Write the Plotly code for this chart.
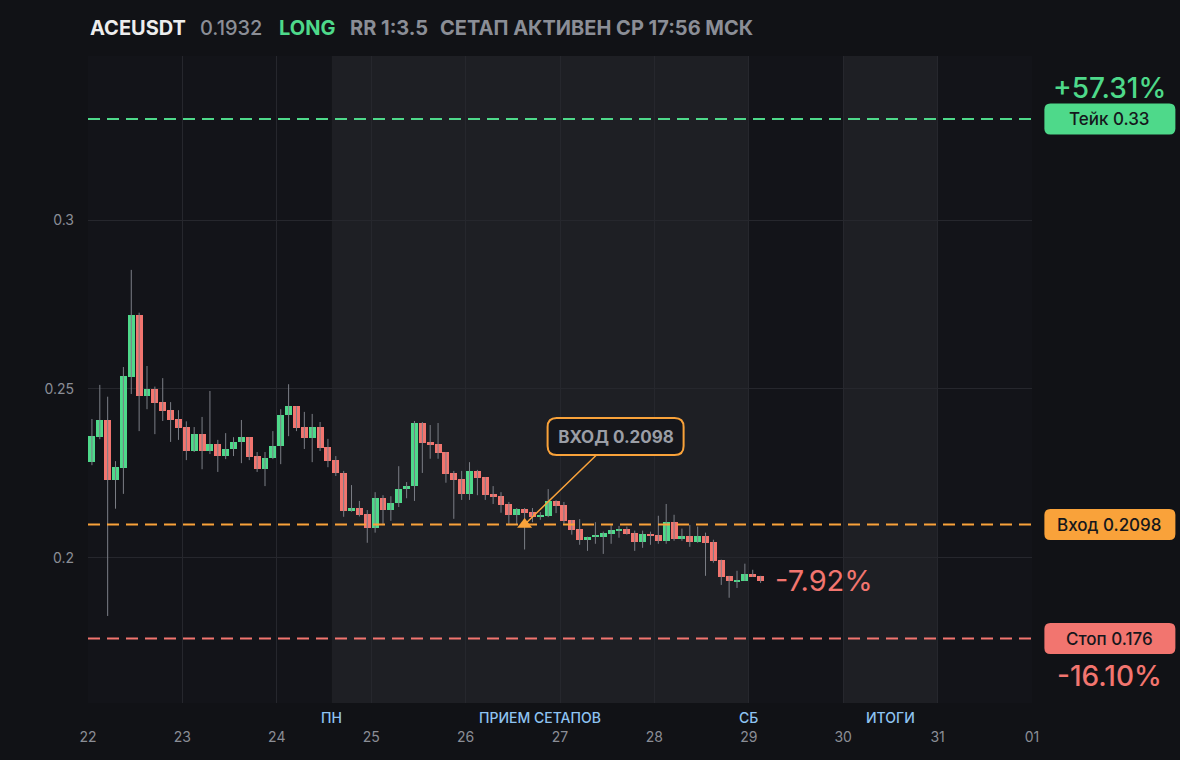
# %% --------------------------------------------------------------------
# Import packages

import pandas as pd
import plotly.graph_objects as go

# %% --------------------------------------------------------------------
# Data (2h candles, ACEUSDT)

candle_start = "2025-08-22 01:00"   # centre of the first 2h candle
candle_step_h = 2

opens = [0.2284, 0.2358, 0.2408, 0.2231, 0.2266, 0.2536, 0.2719, 0.2480, 0.2500, 0.2461,
         0.2437, 0.2411, 0.2387, 0.2316, 0.2366, 0.2316, 0.2337, 0.2301, 0.2322, 0.2343,
         0.2357, 0.2301, 0.2262, 0.2295, 0.2331, 0.2423, 0.2449, 0.2387, 0.2354, 0.2387,
         0.2328, 0.2289, 0.2251, 0.2139, 0.2147, 0.2129, 0.2088, 0.2176, 0.2142, 0.2162,
         0.2203, 0.2212, 0.2399, 0.2344, 0.2338, 0.2313, 0.2251, 0.2233, 0.2189, 0.2257,
         0.2239, 0.2188, 0.2182, 0.2159, 0.2127, 0.2144, 0.2135, 0.2121, 0.2124, 0.2168,
         0.2156, 0.2111, 0.2084, 0.2053, 0.2062, 0.2062, 0.2071, 0.2080, 0.2086, 0.2074,
         0.2047, 0.2071, 0.2068, 0.2050, 0.2106, 0.2056, 0.2065, 0.2047, 0.2065, 0.2047,
         0.1994, 0.1946, 0.1928, 0.1931, 0.1952, 0.1946]
highs = [0.2411, 0.2512, 0.2477, 0.2286, 0.2565, 0.2853, 0.2726, 0.2568, 0.2507, 0.2532,
         0.2461, 0.2437, 0.2404, 0.2387, 0.2417, 0.2494, 0.2349, 0.2369, 0.2357, 0.2408,
         0.2357, 0.2313, 0.2313, 0.2375, 0.2440, 0.2514, 0.2449, 0.2432, 0.2426, 0.2402,
         0.2352, 0.2301, 0.2257, 0.2215, 0.2168, 0.2141, 0.2194, 0.2185, 0.2182, 0.2271,
         0.2224, 0.2405, 0.2402, 0.2393, 0.2399, 0.2313, 0.2257, 0.2257, 0.2283, 0.2260,
         0.2239, 0.2212, 0.2194, 0.2165, 0.2147, 0.2147, 0.2147, 0.2135, 0.2203, 0.2170,
         0.2165, 0.2111, 0.2114, 0.2062, 0.2105, 0.2077, 0.2096, 0.2094, 0.2092, 0.2080,
         0.2080, 0.2077, 0.2124, 0.2159, 0.2127, 0.2086, 0.2097, 0.2092, 0.2074, 0.2053,
         0.1994, 0.1946, 0.1961, 0.1982, 0.1964, 0.1946]
lows = [0.2274, 0.2351, 0.1827, 0.2145, 0.2189, 0.2485, 0.2375, 0.2440, 0.2366, 0.2405,
        0.2343, 0.2349, 0.2289, 0.2313, 0.2262, 0.2307, 0.2254, 0.2292, 0.2301, 0.2280,
        0.2289, 0.2254, 0.2212, 0.2292, 0.2277, 0.2360, 0.2375, 0.2322, 0.2283, 0.2316,
        0.2268, 0.2242, 0.2121, 0.2136, 0.2122, 0.2044, 0.2074, 0.2096, 0.2109, 0.2150,
        0.2176, 0.2168, 0.2251, 0.2293, 0.2293, 0.2222, 0.2115, 0.2171, 0.2171, 0.2185,
        0.2171, 0.2159, 0.2133, 0.2099, 0.2099, 0.2024, 0.2105, 0.2112, 0.2120, 0.2132,
        0.2100, 0.2068, 0.2038, 0.2020, 0.2041, 0.2011, 0.2041, 0.2059, 0.2068, 0.2020,
        0.2029, 0.2038, 0.2041, 0.2041, 0.2050, 0.2050, 0.2032, 0.2044, 0.1946, 0.1985,
        0.1919, 0.1881, 0.1910, 0.1931, 0.1943, 0.1925]
closes = [0.2360, 0.2408, 0.2231, 0.2268, 0.2538, 0.2719, 0.2480, 0.2500, 0.2458, 0.2435,
          0.2408, 0.2385, 0.2316, 0.2366, 0.2316, 0.2337, 0.2301, 0.2322, 0.2343, 0.2357,
          0.2298, 0.2262, 0.2295, 0.2331, 0.2423, 0.2449, 0.2384, 0.2354, 0.2387, 0.2325,
          0.2286, 0.2251, 0.2139, 0.2147, 0.2126, 0.2088, 0.2176, 0.2142, 0.2162, 0.2203,
          0.2212, 0.2399, 0.2341, 0.2335, 0.2311, 0.2249, 0.2230, 0.2189, 0.2257, 0.2236,
          0.2185, 0.2179, 0.2157, 0.2127, 0.2144, 0.2133, 0.2121, 0.2127, 0.2168, 0.2154,
          0.2109, 0.2082, 0.2053, 0.2062, 0.2065, 0.2074, 0.2083, 0.2086, 0.2071, 0.2047,
          0.2071, 0.2065, 0.2050, 0.2106, 0.2056, 0.2065, 0.2047, 0.2065, 0.2044, 0.1991,
          0.1943, 0.1931, 0.1934, 0.1952, 0.1943, 0.1932]

# trade setup
take_price = 0.33
entry_price = 0.2098
stop_price = 0.176
entry_time = "2025-08-26 15:00"
take_pct_text = "+57.31%"
stop_pct_text = "-16.10%"
now_pct_text = "-7.92%"

# header pieces
title_parts = ["ACEUSDT", "0.1932", "LONG", "RR 1:3.5", "СЕТАП АКТИВЕН СР 17:56 МСК"]

# highlighted sessions and their labels
sessions = [("2025-08-24 14:00", "2025-08-29 00:00"), ("2025-08-30 00:00", "2025-08-31 00:00")]
session_labels = ["ПН", "ПРИЕМ СЕТАПОВ", "СБ", "ИТОГИ"]
session_label_x = ["2025-08-24 14:00", "2025-08-26 19:00", "2025-08-29 00:00", "2025-08-30 12:00"]

y_ticks = [0.2, 0.25, 0.3]
y_ticktext = ["0.2", "0.25", "0.3"]

# %% --------------------------------------------------------------------
# Colours / fonts

GREEN = "#4ed98a"
RED = "#f2756f"
ORANGE = "#f9a23a"
WICK = "#7b7e86"
GRID = "#26272d"
TXT = "#8b8e96"
FONT = "Inter"
BG = "#111216"

# %% --------------------------------------------------------------------
# Build candles: wicks as one line trace, bodies as bars

times = pd.date_range(candle_start, periods=len(opens), freq=f"{candle_step_h}h")

wick_x, wick_y = [], []
for t, h, l in zip(times, highs, lows):
    wick_x += [t, t, None]
    wick_y += [h, l, None]

body_base = [min(o, c) for o, c in zip(opens, closes)]
body_h = [max(abs(c - o), 0.0005) for o, c in zip(opens, closes)]
body_col = [GREEN if c >= o else RED for o, c in zip(opens, closes)]

fig = go.Figure()

fig.add_trace(go.Scatter(x=wick_x, y=wick_y, mode="lines",
                         line=dict(color=WICK, width=1), hoverinfo="skip"))

fig.add_trace(go.Bar(x=times, y=body_h, base=body_base,
                     width=candle_step_h * 3600 * 1000 * 0.88,
                     marker=dict(color=body_col, line=dict(width=0)),
                     hoverinfo="skip"))

# entry marker
fig.add_trace(go.Scatter(x=[entry_time], y=[entry_price], mode="markers",
                         marker=dict(symbol="triangle-up", size=13, color=ORANGE),
                         hoverinfo="skip"))

# %% --------------------------------------------------------------------
# Helper: rounded rectangle path in pixels around an anchor


def rounded_rect(w, h, r, cx=0, cy=0):
    x0, x1 = cx - w / 2, cx + w / 2
    y0, y1 = cy - h / 2, cy + h / 2
    return (f"M{x0 + r},{y0} L{x1 - r},{y0} Q{x1},{y0} {x1},{y0 + r} "
            f"L{x1},{y1 - r} Q{x1},{y1} {x1 - r},{y1} L{x0 + r},{y1} "
            f"Q{x0},{y1} {x0},{y1 - r} L{x0},{y0 + r} Q{x0},{y0} {x0 + r},{y0} Z")


shapes = []

# session shading
for s0, s1 in sessions:
    shapes.append(dict(type="rect", xref="x", yref="paper", x0=s0, x1=s1, y0=0, y1=1,
                       fillcolor="#1e1f24", line=dict(width=0), layer="below"))

# take / entry / stop dashed levels
for price, col in [(take_price, GREEN), (entry_price, ORANGE), (stop_price, RED)]:
    shapes.append(dict(type="line", xref="paper", yref="y", x0=0, x1=1, y0=price, y1=price,
                       line=dict(color=col, width=2, dash="12px,7px"), layer="above"))

# right side price tags
label_x = 1.0825
tags = [(take_price, GREEN, f"Тейк {take_price}"),
        (entry_price, ORANGE, f"Вход {entry_price}"),
        (stop_price, RED, f"Стоп {stop_price}")]
for price, col, _ in tags:
    shapes.append(dict(type="path", xref="paper", yref="y", xsizemode="pixel", ysizemode="pixel",
                       xanchor=label_x, yanchor=price, path=rounded_rect(131, 31, 6),
                       fillcolor=col, line=dict(width=0), layer="above"))

# entry callout box (offset from the marker)
call_dx, call_dy = 91, 88
shapes.append(dict(type="path", xref="x", yref="y", xsizemode="pixel", ysizemode="pixel",
                   xanchor=entry_time, yanchor=entry_price,
                   path=rounded_rect(136, 37, 9, cx=call_dx, cy=call_dy),
                   fillcolor="#15161b", line=dict(color=ORANGE, width=2), layer="above"))

# %% --------------------------------------------------------------------
# Annotations

annotations = []

# header
title_x_px = [88, 198, 277, 348, 438]
title_cols = ["#ededed", TXT, GREEN, TXT, TXT]
title_weight = [700, 500, 700, 700, 700]
for txt, px, col, w in zip(title_parts, title_x_px, title_cols, title_weight):
    annotations.append(dict(text=txt, xref="paper", yref="paper",
                            x=(px - 88) / 944, y=1 + (56 - 28) / 647, xanchor="left",
                            yanchor="middle", showarrow=False,
                            font=dict(family=FONT, size=20, color=col, weight=w)))

for price, col, txt in tags:
    annotations.append(dict(text=txt, xref="paper", yref="y", x=label_x, y=price,
                            xanchor="center", yanchor="middle", showarrow=False,
                            font=dict(family=FONT, size=17, color="#15171c", weight=500)))

annotations.append(dict(text=take_pct_text, xref="paper", yref="y", x=label_x, y=take_price,
                        xanchor="center", yanchor="middle", yshift=31, showarrow=False,
                        font=dict(family=FONT, size=28, color=GREEN, weight=500)))
annotations.append(dict(text=stop_pct_text, xref="paper", yref="y", x=label_x, y=stop_price,
                        xanchor="center", yanchor="middle", yshift=-37, showarrow=False,
                        font=dict(family=FONT, size=28, color=RED, weight=500)))
annotations.append(dict(text=now_pct_text, xref="x", yref="y", x=times[-1], y=closes[-1],
                        xanchor="left", yanchor="middle", xshift=12, showarrow=False,
                        font=dict(family=FONT, size=29, color=RED)))

# entry callout
annotations.append(dict(text=f"ВХОД {entry_price}", xref="x", yref="y",
                        x=entry_time, y=entry_price, ax=call_dx, ay=-call_dy,
                        width=132, height=33, borderpad=2, showarrow=True, arrowhead=0,
                        arrowwidth=1.5, arrowcolor=ORANGE, standoff=0,
                        font=dict(family=FONT, size=17, color="#9b9ea6", weight=700)))

# session labels under the plot
for txt, xv in zip(session_labels, session_label_x):
    annotations.append(dict(text=txt, xref="x", yref="paper", x=xv, y=-(717 - 703) / 647,
                            xanchor="center", yanchor="middle", showarrow=False,
                            font=dict(family=FONT, size=14, color="#8ec4f2", weight=500)))

# %% --------------------------------------------------------------------
# Layout

fig.update_layout(
    width=1180, height=760,
    margin=dict(l=88, r=148, t=56, b=57),
    paper_bgcolor=BG,
    plot_bgcolor="#131419",
    showlegend=False,
    bargap=0,
    font=dict(family=FONT, size=14, color=TXT),
    shapes=shapes,
    annotations=annotations,
    xaxis=dict(
        type="date",
        range=["2025-08-22", "2025-09-01"],
        tick0="2025-08-22", dtick=86400000, tickformat="%d",
        showgrid=True, gridcolor=GRID, gridwidth=1, zeroline=False,
        ticks="", ticklabelstandoff=24, tickfont=dict(size=14, color=TXT),
        showline=False, fixedrange=True,
    ),
    yaxis=dict(
        range=[0.1569, 0.3487],
        tickvals=y_ticks, ticktext=y_ticktext,
        showgrid=True, gridcolor=GRID, gridwidth=1, zeroline=False,
        ticks="", ticklabelstandoff=13, tickfont=dict(size=14, color=TXT),
        showline=False, fixedrange=True,
    ),
)

# page without the default body margin, dark behind the figure
fig.write_html("out.html", config={"displayModeBar": False},
               post_script=f"document.body.style.margin='0';document.body.style.background='{BG}';")
